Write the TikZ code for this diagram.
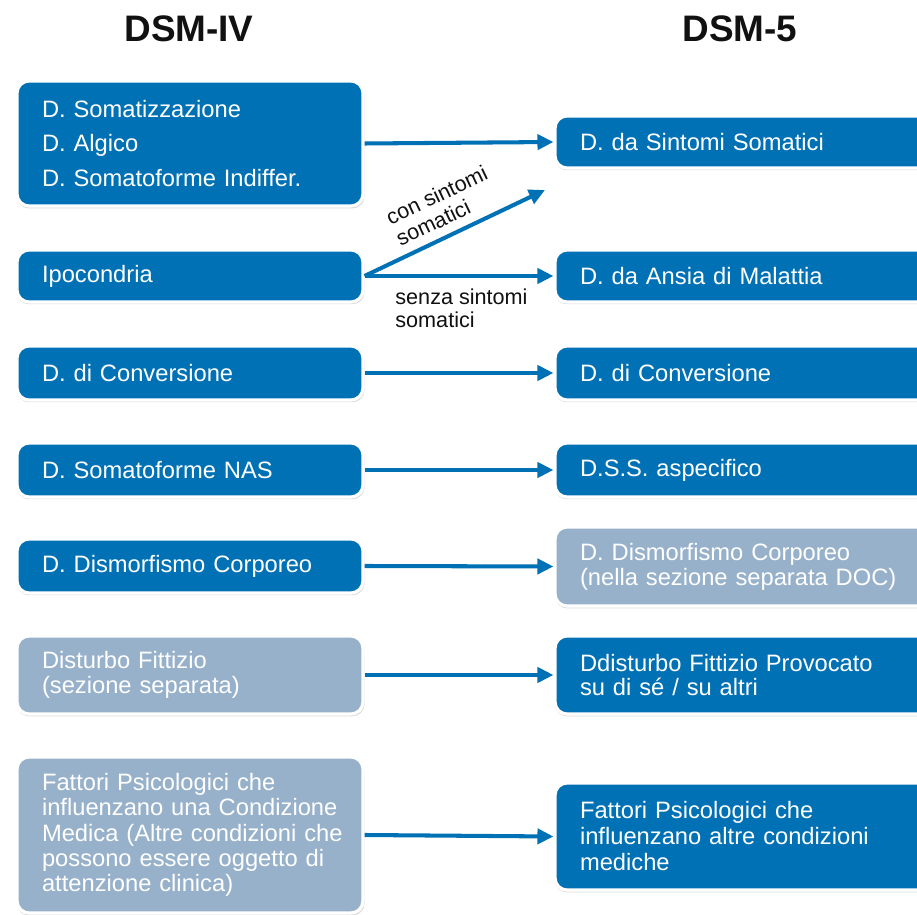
\documentclass[tikz,border=0pt]{standalone}
\usepackage{fontspec}
\setmainfont{Liberation Sans}
\usetikzlibrary{arrows.meta,calc,positioning,shadows}
\definecolor{dsmblue}{HTML}{0071B5}
\definecolor{dsmgrey}{HTML}{97B1CB}
\definecolor{dsmink}{HTML}{111111}

\begin{document}
\begin{tikzpicture}[x=0.02cm,y=-0.02cm,line cap=round,line join=round,
  box/.style={rounded corners=0.24cm,draw=white,line width=1.8pt,text=white,align=left,
    inner xsep=0.5cm,inner ysep=0pt,font=\fontsize{13.5}{14.2}\selectfont,
    drop shadow={opacity=0.28,shadow xshift=0.4pt,shadow yshift=-1.2pt,shadow scale=1.005}},
  lbox/.style={box,text width=5.92cm,minimum width=6.92cm},
  rbox/.style={box,text width=6.6cm,minimum width=7.6cm},
  dk/.style={fill=dsmblue},
  lt/.style={fill=dsmgrey},
  arr/.style={-{Triangle[length=0.32cm,width=0.3cm]},dsmblue,line width=2.3pt,line cap=butt},
  lbl/.style={text=dsmink,align=left,font=\fontsize{12.3}{13.3}\selectfont,inner sep=2pt},
  ttl/.style={text=dsmink,font=\bfseries\fontsize{21}{24}\selectfont}]
\useasboundingbox (0,0) rectangle (917,915);
\clip (0,0) rectangle (917,915);
\fill[white] (0,0) rectangle (917,915);

% titoli
\node[ttl] (t4) at (189,29) {DSM-IV};
\node[ttl] (t5) at (740,29) {DSM-5};

% DSM-IV
\node[lbox,dk,minimum height=2.5cm,font=\fontsize{13.5}{19.4}\selectfont] (l1) at (190,143.5)
  {D. Somatizzazione\\D. Algico\\D. Somatoforme Indiffer.};
\node[lbox,dk,minimum height=1.04cm] (l2) at (190,276) {Ipocondria};
\node[lbox,dk,minimum height=1.08cm] (l3) at (190,373) {D. di Conversione};
\node[lbox,dk,minimum height=1.08cm] (l4) at (190,470) {D. Somatoforme NAS};
\node[lbox,dk,minimum height=1.08cm] (l5) at (190,566) {D. Dismorfismo Corporeo};
\node[lbox,lt,minimum height=1.56cm] (l6) at (190,675) {Disturbo Fittizio\\(sezione separata)};
\node[lbox,lt,minimum height=3.12cm,text width=6.3cm,inner xsep=0.31cm,
  font=\fontsize{13.5}{14.4}\selectfont] (l7) at (190,835)
  {\hspace*{0.19cm}Fattori Psicologici che\\\hspace*{0.19cm}influenzano una Condizione\\\hspace*{0.19cm}Medica (Altre condizioni che\\\hspace*{0.19cm}possono essere oggetto di\\\hspace*{0.19cm}attenzione clinica)};

% DSM-5
\node[rbox,dk,minimum height=1.04cm] (r1) at (745,142) {D. da Sintomi Somatici};
\node[rbox,dk,minimum height=1.04cm] (r2) at (745,276) {D. da Ansia di Malattia};
\node[rbox,dk,minimum height=1.08cm] (r3) at (745,373) {D. di Conversione};
\node[rbox,dk,minimum height=1.08cm] (r4) at (745,470) {D.S.S. aspecifico};
\node[rbox,lt,minimum height=1.58cm] (r5) at (745,566.5) {D. Dismorfismo Corporeo\\(nella sezione separata DOC)};
\node[rbox,dk,minimum height=1.56cm] (r6) at (745,675) {Ddisturbo Fittizio Provocato\\su di sé / su altri};
\node[rbox,dk,minimum height=2.14cm,font=\fontsize{13.5}{14.8}\selectfont] (r7) at (745,836.5)
  {Fattori Psicologici che\\influenzano altre condizioni\\mediche};

% frecce
\coordinate (cs) at (545,190);
\draw[arr] (l1.east) -- (r1.west);
\draw[arr] (l2.east) -- (cs) node[lbl,midway,sloped,above=3pt] {con sintomi\\somatici};
\draw[arr] (l2.east) -- (r2.west);
\node[lbl,anchor=north west] (ss) at ($(l2.east)+(27,9)$) {senza sintomi\\somatici};
\draw[arr] (l3.east) -- (r3.west);
\draw[arr] (l4.east) -- (r4.west);
\draw[arr] (l5.east) -- (r5.west);
\draw[arr] (l6.east) -- (r6.west);
\draw[arr] (l7.east) -- (r7.west);
\end{tikzpicture}
\end{document}
